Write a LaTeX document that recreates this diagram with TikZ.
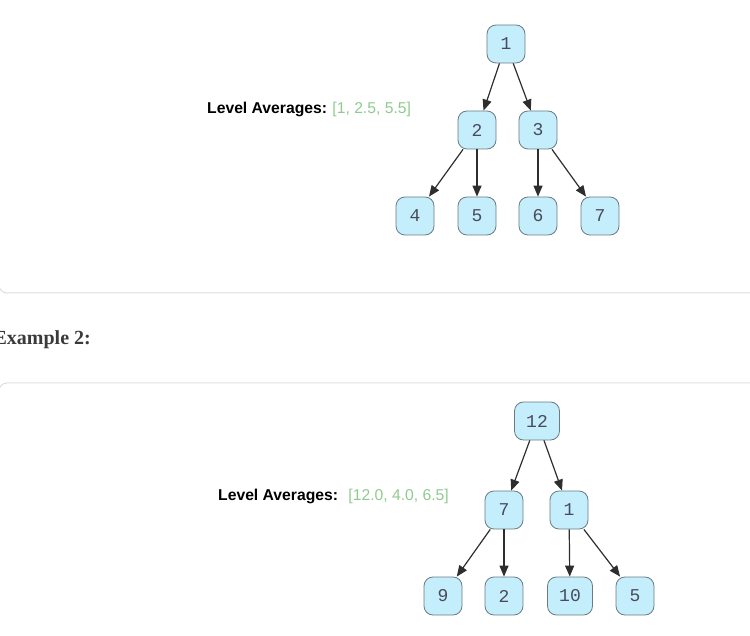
\documentclass[tikz,border=0pt]{standalone}
\usepackage{fontspec}
\setmainfont{Liberation Serif}
\setsansfont{Liberation Sans}
\setmonofont{Liberation Mono}
\usepackage{tikz}
\usetikzlibrary{positioning,arrows.meta}

\definecolor{cardline}{HTML}{DEDEDE}
\definecolor{nodefill}{HTML}{C4EEFB}
\definecolor{nodeline}{HTML}{6B7B82}
\definecolor{nodetext}{HTML}{4A4A5C}
\definecolor{avggreen}{HTML}{8FCB8F}
\definecolor{headgray}{HTML}{3A3A3A}
\definecolor{edgegray}{HTML}{2E2E2E}

\begin{document}
\begin{tikzpicture}[
  x=1pt,y=-1pt,
  >={Triangle[length=11pt,width=9pt]},
  card/.style={draw=cardline,line width=1pt,rounded corners=8pt},
  tnode/.style={draw=nodeline,line width=0.8pt,fill=nodefill,rounded corners=9pt,
                minimum width=38pt,minimum height=38pt,inner sep=2pt,
                font=\fontsize{18}{20}\selectfont\ttfamily,text=nodetext},
  wide/.style={minimum width=45pt},
  lbl/.style={font=\fontsize{15.7}{18}\selectfont\sffamily\bfseries,anchor=west,inner sep=0pt},
  avg/.style={font=\fontsize{15.7}{18}\selectfont\sffamily,text=avggreen,anchor=west,inner sep=0pt},
  link/.style={->,draw=edgegray,line width=1.2pt}
]
  \clip (0,0) rectangle (750,636);

  % panels
  \draw[card] (-1,-20) rectangle (770,293);
  \draw[card] (-1,383) rectangle (770,660);
  \node[font=\fontsize{20}{23}\selectfont\bfseries,text=headgray,anchor=east,inner sep=0pt]
       (ex2) at (91,340) {Example 2:};

  % example 1
  \node[lbl] (lev1) at (207,109) {Level Averages:};
  \node[avg,right=5pt of lev1] (avg1) {[1, 2.5, 5.5]};

  \node[tnode] (a1) at (506,44) {1};
  \node[tnode] (a2) at (477,130) {2};
  \node[tnode] (a3) at (538,130) {3};
  \node[tnode] (a4) at (415,216) {4};
  \node[tnode] (a5) at (477,216) {5};
  \node[tnode] (a6) at (538,216) {6};
  \node[tnode] (a7) at (600,216) {7};

  \draw[link] (a1) -- (a2);
  \draw[link] (a1) -- (a3);
  \draw[link] (a2) -- (a4);
  \draw[link] (a2) -- (a5);
  \draw[link] (a3) -- (a6);
  \draw[link] (a3) -- (a7);

  % example 2
  \node[lbl] (lev2) at (218,496) {Level Averages:};
  \node[avg,right=10pt of lev2] (avg2) {[12.0, 4.0, 6.5]};

  \node[tnode,wide] (b1) at (537,421) {12};
  \node[tnode] (b2) at (504,510) {7};
  \node[tnode] (b3) at (569,510) {1};
  \node[tnode] (b4) at (443,596) {9};
  \node[tnode] (b5) at (504,596) {2};
  \node[tnode,wide] (b6) at (570,596) {10};
  \node[tnode] (b7) at (635,596) {5};

  \draw[link] (b1) -- (b2);
  \draw[link] (b1) -- (b3);
  \draw[link] (b2) -- (b4);
  \draw[link] (b2) -- (b5);
  \draw[link] (b3) -- (b6);
  \draw[link] (b3) -- (b7);
\end{tikzpicture}
\end{document}
